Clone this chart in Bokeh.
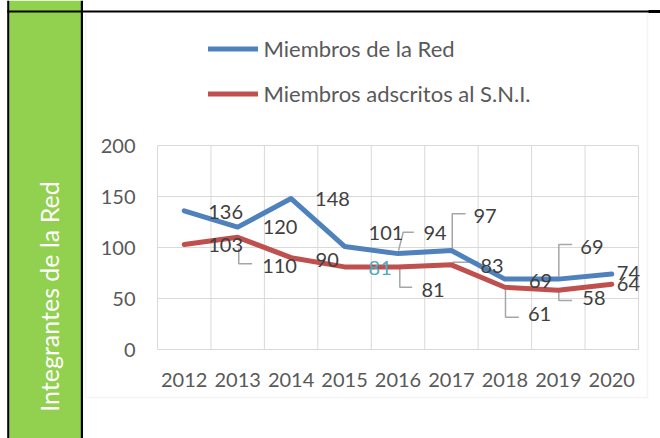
from bokeh.plotting import figure
from bokeh.models import (ColumnDataSource, FixedTicker, Legend, LegendItem,
                          BoxAnnotation, Label)
from bokeh.core.properties import value
from bokeh.embed import file_html
from bokeh.resources import INLINE

# ---------------- data ----------------
years = ["2012", "2013", "2014", "2015", "2016", "2017", "2018", "2019", "2020"]
miembros_red = [136, 120, 148, 101, 94, 97, 69, 69, 74]
miembros_sni = [103, 110, 90, 81, 81, 83, 61, 58, 64]
y_ticks = [0, 50, 100, 150, 200]
series_names = ["Miembros de la Red", "Miembros adscritos al S.N.I."]
side_title = "Integrantes de la Red"

# ---------------- styles / label placement (screen px) ----------------
BLUE = "#4F81BD"
RED = "#C0504D"
GREEN = "#92D050"
GRID = "#D9D9D9"
TXT = "#595959"
LBL = "#404040"
CYAN = "#4BACC6"
LEADER = "#A6A6A6"
FONT = "Lato"

blue_dx = [24, 25, 24, 24, 25.5, 22, 24, 22, 5]
blue_dy = [1.5, 0, 0, -13.5, -20.5, -34.5, 1.5, -32.5, -1]
red_dx = [24, 24.5, 24.5, 24, 23.5, 29, 23, 24, 5]
red_dy = [0.5, 29, 2, 1, 23, 1, 26.5, 7.7, -0.5]
red_label_colors = [LBL, LBL, LBL, CYAN, LBL, LBL, LBL, LBL, LBL]

# leader polylines relative to the point: (index, [(dx, dy), ...])
blue_leaders = [
    (4, [(0.5, -3), (5.2, -21.4), (15.8, -21.4)]),
    (5, [(0.8, -2), (0.8, -36.8), (14.1, -36.8)]),
    (7, [(0.5, -2), (0.5, -34.6), (13.9, -34.6)]),
]
red_leaders = [
    (1, [(1.1, 11.2), (1.1, 26.5), (14.5, 26.5)]),
    (4, [(1.8, 1), (1.8, 20.3), (14.2, 20.3)]),
    (5, [(0.8, -2.6), (27.1, -2.6)]),
    (6, [(0.6, 1), (0.6, 29.9), (13.9, 29.9)]),
    (7, [(0.5, 1), (0.5, 10.2), (13.9, 10.2)]),
]

# ---------------- geometry (canvas px) ----------------
W, H = 660, 438
PL, PR, PT, PB = 157, 638, 145, 349          # plot-area edges
x_lo, x_hi = -0.5, len(years) - 0.5
y_lo, y_hi = y_ticks[0], y_ticks[-1]
px_x = (PR - PL) / (x_hi - x_lo)
px_y = (PB - PT) / (y_hi - y_lo)
x_start = x_lo - PL / px_x
x_end = x_hi + (W - PR) / px_x
y_start = y_lo - (H - PB) / px_y
y_end = y_hi + PT / px_y

p = figure(width=W, height=H, x_range=(x_start, x_end), y_range=(y_start, y_end),
           output_backend="svg", toolbar_location=None, title=None,
           min_border=0)
p.outline_line_color = None
p.background_fill_color = "white"
p.border_fill_color = "white"
p.xgrid.visible = False
p.ygrid.visible = False

# axes (drawn at the plot-area edges)
xs = list(range(len(years)))
p.xaxis.ticker = FixedTicker(ticks=xs)
p.xaxis.major_label_overrides = {i: y for i, y in enumerate(years)}
p.yaxis.ticker = FixedTicker(ticks=y_ticks)
p.xaxis.fixed_location = y_lo
p.yaxis.fixed_location = x_lo
for ax in (p.xaxis[0], p.yaxis[0]):
    ax.axis_line_color = None
    ax.major_tick_line_color = None
    ax.minor_tick_line_color = None
    ax.major_tick_out = 0
    ax.major_tick_in = 0
    ax.major_label_text_font = FONT
    ax.major_label_text_font_size = "20px"
    ax.major_label_text_color = TXT
p.yaxis.major_label_standoff = 22
p.xaxis.major_label_standoff = 23

# decorations (canvas units)
def box(l, r, t, b, **kw):
    return BoxAnnotation(left=l, right=r, top=t, bottom=b,
                         left_units="canvas", right_units="canvas",
                         top_units="canvas", bottom_units="canvas", **kw)

p.add_layout(box(8.5, 80.5, 0, H, fill_color=GREEN, fill_alpha=1, line_color=None, level="underlay"))
p.add_layout(box(85, 647, 11, 397, fill_alpha=0, line_color=GRID, line_width=1.5, level="underlay"))
p.add_layout(box(6.7, 8.7, 0, H, fill_color="black", fill_alpha=1, line_color=None, level="underlay"))
p.add_layout(box(80.3, 82.5, 0, H, fill_color="black", fill_alpha=1, line_color=None, level="underlay"))
p.add_layout(box(6.7, W, 10, 12, fill_color="black", fill_alpha=1, line_color=None, level="underlay"))
p.add_layout(box(648, W, 9.5, 12.5, fill_color="black", fill_alpha=1, line_color=None, level="underlay"))

p.add_layout(Label(x=48, y=296, x_units="canvas", y_units="canvas", text=side_title,
                   angle=90, angle_units="deg", text_align="center", text_baseline="middle",
                   text_color="white", text_font=FONT, text_font_size="25px"))

# grid lines of the plot area
p.segment(x0=[x_lo] * len(y_ticks), y0=y_ticks, x1=[x_hi] * len(y_ticks), y1=y_ticks,
          line_color=GRID, line_width=1)
bounds = [i - 0.5 for i in range(len(years) + 1)]
p.segment(x0=bounds, y0=[y_lo] * len(bounds), x1=bounds, y1=[y_hi] * len(bounds),
          line_color=GRID, line_width=1)

# leaders
def leader_paths(leaders, vals):
    lx, ly = [], []
    for i, pts in leaders:
        lx.append([i + dx / px_x for dx, dy in pts])
        ly.append([vals[i] - dy / px_y for dx, dy in pts])
    return lx, ly

bx, by = leader_paths(blue_leaders, miembros_red)
rx, ry = leader_paths(red_leaders, miembros_sni)
p.multi_line(bx + rx, by + ry, line_color=LEADER, line_width=1.5)

# lines
src = ColumnDataSource(dict(x=xs, red=miembros_red, sni=miembros_sni))
r_red = p.line("x", "sni", source=src, line_color=RED, line_width=5,
               line_cap="round", line_join="round")
r_blue = p.line("x", "red", source=src, line_color=BLUE, line_width=5,
                line_cap="round", line_join="round")

# data labels
lab = ColumnDataSource(dict(
    x=xs + xs,
    y=miembros_red + miembros_sni,
    t=[str(v) for v in miembros_red + miembros_sni],
    dx=blue_dx + red_dx,
    dy=blue_dy + red_dy,
    c=[LBL] * len(xs) + red_label_colors,
))
p.text("x", "y", text="t", source=lab, x_offset="dx", y_offset="dy",
       text_align="left", text_baseline="middle", text_color="c",
       text_font=value(FONT), text_font_size=value("20px"))

# legend
legend = Legend(items=[LegendItem(label=series_names[0], renderers=[r_blue]),
                       LegendItem(label=series_names[1], renderers=[r_red])],
                location=(207.5, H - 107), orientation="vertical", padding=0, margin=0,
                spacing=18, label_height=27, glyph_height=27, glyph_width=50,
                label_standoff=6, label_text_font=FONT, label_text_font_size="22px",
                label_text_color=TXT, border_line_color=None, background_fill_alpha=0)
p.add_layout(legend)

open("out.html", "w").write(file_html(p, INLINE))
